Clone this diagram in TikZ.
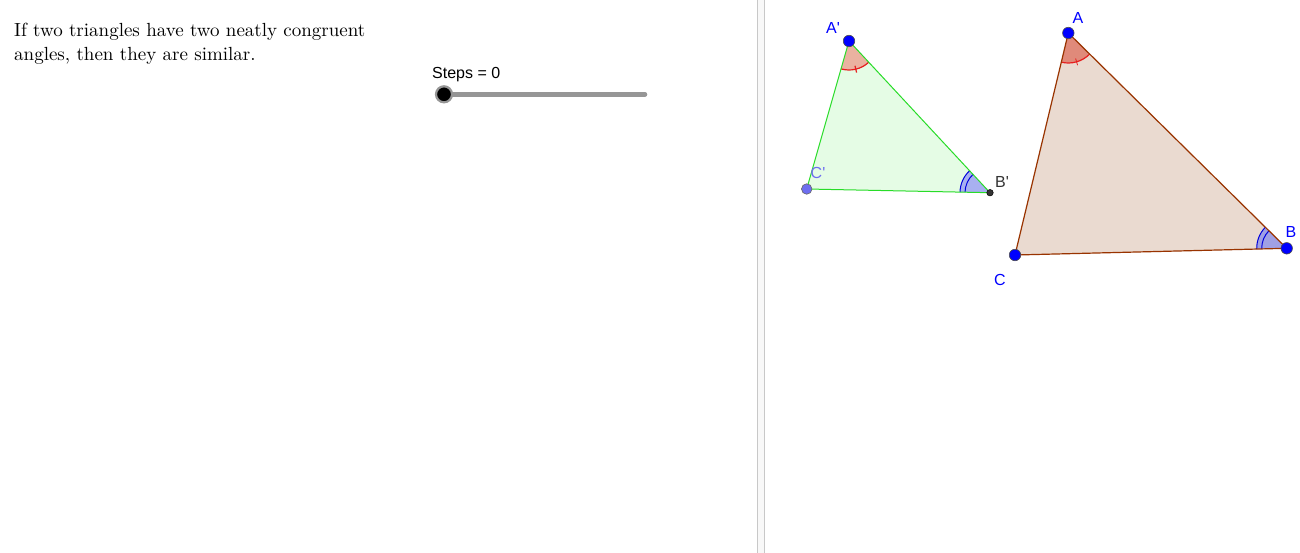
\documentclass[tikz,border=0pt]{standalone}
\usepackage{fontspec}
\newfontfamily\ggbfont{Liberation Sans}
\newfontfamily\cmten{lmroman10-regular}[Extension=.otf]
\usetikzlibrary{calc}
\definecolor{ptblue}{RGB}{0,0,255}
\definecolor{ptlight}{RGB}{110,110,240}
\definecolor{ptdark}{RGB}{51,51,51}
\definecolor{brownline}{RGB}{153,51,0}
\definecolor{brownfill}{RGB}{234,218,208}
\definecolor{greenline}{RGB}{40,220,40}
\definecolor{greenfill}{RGB}{229,252,229}
\definecolor{angAfill}{RGB}{224,138,122}
\definecolor{angApfill}{RGB}{234,178,160}
\definecolor{angBfill}{RGB}{160,160,228}
\definecolor{angBpfill}{RGB}{168,176,240}
\definecolor{arcred}{RGB}{230,30,30}
\definecolor{arcblue}{RGB}{0,0,220}
\definecolor{divfill}{RGB}{248,248,248}
\definecolor{divline}{RGB}{200,200,200}
\definecolor{slidergrey}{RGB}{150,150,150}
\tikzset{
  x=1pt, y=1pt,
  bigpt/.style={circle, draw=black!70, line width=0.6pt, fill=ptblue, inner sep=0pt, minimum size=11.5pt},
  lightpt/.style={circle, draw=black!60, line width=0.6pt, fill=ptlight, inner sep=0pt, minimum size=10.5pt},
  smallpt/.style={circle, draw=black, line width=0.5pt, fill=ptdark, inner sep=0pt, minimum size=6.5pt},
  lbl/.style={font=\ggbfont\fontsize{16}{18}\selectfont, inner sep=0pt},
  stmt/.style={anchor=base west, inner sep=0pt, font=\cmten\fontsize{19}{24}\selectfont},
  arcA/.style={arcred, line width=1.2pt},
  arcB/.style={arcblue, line width=1pt},
}
\begin{document}
\begin{tikzpicture}
\useasboundingbox (0,0) rectangle (1300,-552);
\fill[white] (0,0) rectangle (1300,-552);
% divider
\draw[divline, fill=divfill, line width=0.8pt] (757.5,1) rectangle (764.3,-553);
% statement text
\node[stmt] (txt1) at (14,-36.5) {If two triangles have two neatly congruent};
\node[stmt] (txt2) at (14,-60.5) {angles, then they are similar.};
% slider
\node[lbl, anchor=base west] (steps) at (432,-78.3) {Steps = 0};
\coordinate (s0) at (444,-94.3);
\coordinate (s1) at (645,-94.3);
\draw[slidergrey, line width=4.5pt, line cap=round] (s0) -- (s1);
\node[circle, fill=black, draw=slidergrey, line width=2.2pt, inner sep=0pt, minimum size=16pt] (knob) at (s0) {};
% small triangle
\coordinate (Ap) at (849,-41);
\coordinate (Bp) at (990,-192.7);
\coordinate (Cp) at (806.7,-189);
\fill[greenfill] (Ap) -- (Bp) -- (Cp) -- cycle;
\fill[angApfill] (Ap) -- ($(Ap)+(-105.9:29)$) arc[start angle=-105.9, end angle=-47.1, radius=29] -- cycle;
\fill[angBpfill] (Bp) -- ($(Bp)+(132.9:30)$) arc[start angle=132.9, end angle=178.8, radius=30] -- cycle;
\draw[arcA] ($(Ap)+(-105.9:29)$) arc[start angle=-105.9, end angle=-47.1, radius=29];
\draw[arcA] ($(Ap)+(-76.5:25.5)$) -- ($(Ap)+(-76.5:32.5)$);
\draw[arcB] ($(Bp)+(132.9:30)$) arc[start angle=132.9, end angle=178.8, radius=30];
\draw[arcB] ($(Bp)+(132.9:25)$) arc[start angle=132.9, end angle=178.8, radius=25];
\draw[greenline, line width=1pt, line join=round] (Ap) -- (Bp) -- (Cp) -- cycle;
% big triangle
\coordinate (A) at (1068.3,-33);
\coordinate (B) at (1286.7,-248.3);
\coordinate (C) at (1015,-255);
\fill[brownfill] (A) -- (B) -- (C) -- cycle;
\fill[angAfill] (A) -- ($(A)+(-103.5:30)$) arc[start angle=-103.5, end angle=-44.6, radius=30] -- cycle;
\fill[angBfill] (B) -- ($(B)+(135.4:30)$) arc[start angle=135.4, end angle=181.4, radius=30] -- cycle;
\draw[arcA] ($(A)+(-103.5:30)$) arc[start angle=-103.5, end angle=-44.6, radius=30];
\draw[arcA, line width=0.8pt] ($(A)+(-74:26.5)$) -- ($(A)+(-74:33.5)$);
\draw[arcB] ($(B)+(135.4:30)$) arc[start angle=135.4, end angle=181.4, radius=30];
\draw[arcB] ($(B)+(135.4:25)$) arc[start angle=135.4, end angle=181.4, radius=25];
\draw[brownline, line width=1.2pt, line join=round] (A) -- (B) -- (C) -- cycle;
% points
\node[bigpt] (pAp) at (Ap) {};
\node[lightpt] (pCp) at (Cp) {};
\node[smallpt] (pBp) at (Bp) {};
\node[bigpt] (pA) at (A) {};
\node[bigpt] (pB) at (B) {};
\node[bigpt] (pC) at (C) {};
% labels
\node[lbl, text=ptblue] (lAp) at (833,-28) {A'};
\node[lbl, text=ptlight] (lCp) at (818,-173) {C'};
\node[lbl, text=ptdark] (lBp) at (1002,-182) {B'};
\node[lbl, text=ptblue] (lA) at (1078,-17.5) {A};
\node[lbl, text=ptblue] (lB) at (1291,-232) {B};
\node[lbl, text=ptblue] (lC) at (1000,-280) {C};
\end{tikzpicture}
\end{document}
